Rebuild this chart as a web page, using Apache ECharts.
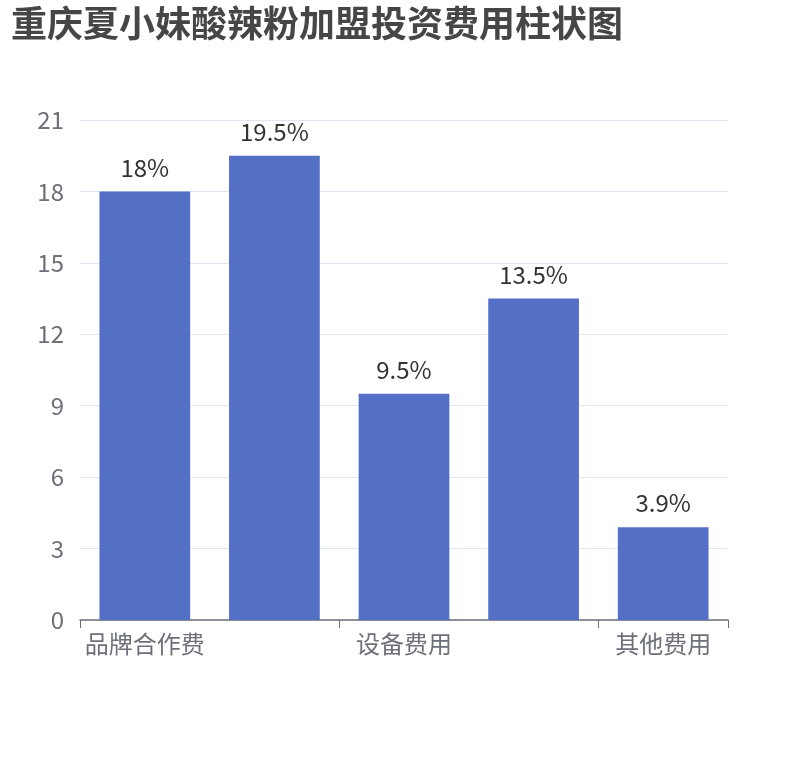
<!DOCTYPE html>
<html>
<head>
<meta charset="utf-8">
<script src="https://cdn.jsdelivr.net/npm/echarts@6/dist/echarts.min.js"></script>
<style>html,body{margin:0;padding:0;background:#fff}#chart{width:810px;height:760px}</style>
</head>
<body>
<div id="chart"></div>
<script>
const titleText = '重庆夏小妹酸辣粉加盟投资费用柱状图';
const categories = ['品牌合作费', '加盟费用', '设备费用', '装修费用', '其他费用'];
const values = [18, 19.5, 9.5, 13.5, 3.9];
const yTicks = [0, 3, 6, 9, 12, 15, 18, 21];

const chart = echarts.init(document.getElementById('chart'));
chart.setOption({
  animation: false,
  textStyle: { fontFamily: '"Noto Sans CJK SC", "Noto Sans", sans-serif' },
  title: {
    text: titleText,
    left: 6,
    top: 0,
    textStyle: { fontSize: 36, fontWeight: 'bold', color: '#464646' }
  },
  grid: { left: 80, right: 82, top: 120, bottom: 140, containLabel: false },
  xAxis: {
    type: 'category',
    data: categories,
    axisLabel: { interval: 1, fontSize: 24, color: '#6E7079', margin: 12 },
    axisTick: { show: true, interval: 1, length: 8, lineStyle: { color: '#6E7079' } },
    axisLine: { lineStyle: { color: '#6E7079', width: 1.5 } }
  },
  yAxis: {
    type: 'value',
    min: yTicks[0],
    max: yTicks[yTicks.length - 1],
    interval: 3,
    axisLabel: { fontSize: 24, color: '#6E7079', margin: 16 },
    splitLine: { lineStyle: { color: '#E0E6F1' } }
  },
  series: [{
    type: 'bar',
    data: values,
    barWidth: '70%',
    itemStyle: { color: '#5470c6' },
    label: {
      show: true,
      position: 'top',
      fontSize: 24,
      color: '#333',
      distance: 12,
      formatter: p => p.value + '%'
    }
  }]
});
</script>
</body>
</html>
